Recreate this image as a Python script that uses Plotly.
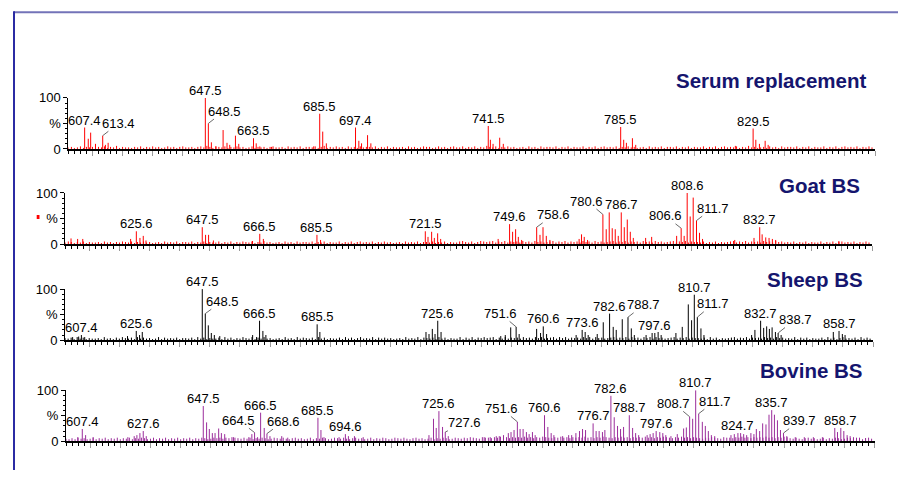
import plotly.graph_objects as go

# ---------------- DATA ----------------
x_range = [602, 870]
panel_titles = ["Serum replacement", "Goat BS", "Sheep BS", "Bovine BS"]
y_tick_vals = [0, 50, 100]
y_tick_text = ["0", "%", "100"]

serum_mz = [607.4, 608.6, 609.4, 611.0, 613.4, 614.3, 615.2, 647.5, 648.5, 649.5, 651.0, 653.4,
            654.7, 655.6, 657.5, 658.6, 663.5, 664.4, 665.6, 669.5, 683.5, 685.5, 686.5, 687.7,
            697.4, 698.5, 699.4, 701.4, 702.5, 741.5, 742.2, 743.1, 745.3, 746.5, 785.5, 786.5,
            787.4, 789.4, 790.5, 823.6, 829.5, 830.4, 831.6, 833.5, 834.5]
serum_int = [42, 20, 32, 10, 26, 8, 12, 100, 50, 13, 5, 37,
             12, 8, 26, 10, 21, 11, 5, 4, 5, 69, 34, 11,
             42, 16, 11, 27, 11, 45, 18, 10, 22, 10, 43, 18,
             12, 21, 8, 6, 40, 18, 10, 16, 8]
serum_labels = ["607.4", "613.4", "647.5", "648.5", "663.5", "685.5", "697.4",
                "741.5", "785.5", "829.5"]

goat_mz = [603.9, 606.1, 607.8, 623.7, 625.6, 626.8, 627.9, 628.8, 647.5, 648.6, 649.6, 651.2,
           664.2, 666.6, 667.8, 685.6, 686.8, 721.6, 722.5, 723.7, 724.6, 725.7, 726.7, 745.8,
           749.6, 750.6, 751.6, 752.5, 753.6, 758.6, 759.7, 760.7, 761.8, 763.0, 772.7, 773.5,
           774.4, 775.5, 780.6, 781.7, 782.7, 783.7, 784.7, 785.7, 786.7, 787.7, 788.7, 789.7,
           790.7, 794.8, 796.8, 805.1, 806.6, 807.6, 808.6, 809.6, 810.6, 811.7, 812.7, 813.7,
           824.4, 830.8, 832.7, 833.5, 834.7, 835.8, 836.9, 838.0, 859.0]
goat_int = [11, 10, 10, 10, 25, 12, 16, 7, 33, 18, 18, 7,
            6, 20, 10, 18, 8, 25, 14, 24, 12, 21, 10, 10,
            39, 24, 29, 14, 8, 33, 18, 33, 16, 8, 10, 19,
            14, 8, 58, 29, 62, 31, 29, 16, 62, 33, 48, 24,
            12, 12, 14, 16, 31, 16, 100, 54, 91, 46, 22, 10,
            8, 12, 33, 19, 13, 12, 10, 8, 6]
goat_labels = ["625.6", "647.5", "666.5", "685.5", "721.5", "749.6", "758.6", "780.6",
               "786.7", "806.6", "808.6", "811.7", "832.7"]

sheep_mz = [604.5, 606.5, 607.4, 608.5, 622.7, 625.6, 626.7, 627.6, 647.5, 648.5, 649.5, 650.5,
            651.5, 653.3, 664.2, 665.5, 666.5, 667.6, 668.6, 685.6, 686.5, 721.7, 722.7, 723.8,
            724.7, 725.6, 726.7, 746.5, 748.0, 749.8, 751.6, 752.6, 758.4, 759.7, 760.6, 761.7,
            771.5, 773.5, 774.5, 775.5, 778.5, 780.5, 782.6, 783.8, 784.8, 786.8, 788.7, 789.8,
            790.8, 794.7, 796.7, 797.6, 798.7, 799.7, 804.6, 806.7, 808.7, 809.8, 810.7, 811.7,
            812.9, 813.9, 829.7, 830.8, 832.7, 833.7, 834.7, 835.6, 836.5, 837.6, 838.5, 839.5,
            856.8, 858.7, 859.8, 860.7]
sheep_int = [6, 7, 10, 6, 8, 18, 10, 16, 100, 52, 29, 14,
             10, 8, 10, 6, 38, 18, 10, 31, 16, 16, 12, 22,
             12, 38, 16, 8, 10, 25, 26, 12, 22, 14, 27, 12,
             10, 20, 16, 10, 12, 35, 52, 26, 20, 41, 45, 23,
             10, 10, 14, 14, 16, 10, 14, 26, 70, 39, 89, 45,
             23, 10, 10, 20, 38, 24, 27, 22, 25, 16, 14, 10,
             16, 18, 12, 10]
sheep_labels = ["607.4", "625.6", "647.5", "648.5", "666.5", "685.5", "725.6", "751.6",
                "760.6", "773.6", "782.6", "788.7", "797.6", "810.7", "811.7", "832.7",
                "838.7", "858.7"]

bovine_mz = [605.9, 607.4, 608.5, 611.0, 622.5, 624.6, 625.5, 626.5, 627.6, 628.6, 647.5, 648.6,
             649.5, 650.5, 651.4, 652.6, 653.5, 654.6, 657.5, 662.6, 663.6, 664.5, 665.5, 666.5,
             667.7, 668.6, 669.6, 673.5, 675.5, 685.5, 686.5, 687.5, 692.5, 694.6, 695.6, 697.6,
             700.5, 722.3, 723.8, 724.7, 725.6, 726.8, 727.7, 728.7, 740.6, 742.6, 744.6, 745.6,
             747.0, 748.6, 749.5, 750.5, 751.6, 752.5, 753.5, 754.6, 755.5, 756.6, 757.5, 760.6,
             761.7, 762.8, 763.7, 766.6, 768.6, 769.6, 771.0, 772.2, 773.2, 774.2, 776.7, 777.7,
             778.7, 779.8, 780.6, 782.6, 783.7, 784.8, 785.8, 786.8, 788.7, 789.8, 790.8, 791.8,
             794.6, 795.6, 796.6, 797.6, 798.8, 799.8, 800.8, 802.5, 804.6, 806.7, 807.6, 808.7,
             809.7, 810.7, 811.7, 812.9, 813.9, 814.9, 815.9, 817.0, 822.4, 823.5, 824.7, 825.6,
             826.6, 827.6, 829.0, 830.0, 830.8, 831.9, 832.9, 834.0, 835.0, 835.9, 836.8, 837.8,
             838.8, 839.8, 840.9, 843.7, 846.7, 849.7, 852.7, 856.8, 857.7, 858.8, 859.8, 860.9,
             861.9, 863.0, 865.0, 867.0]
bovine_int = [8, 24, 12, 8, 8, 10, 12, 16, 20, 10, 69, 37,
              24, 16, 16, 25, 16, 14, 8, 8, 14, 17, 8, 56,
              26, 15, 10, 10, 7, 46, 22, 8, 8, 14, 10, 10,
              8, 12, 44, 26, 59, 28, 18, 10, 8, 8, 10, 10,
              12, 16, 18, 22, 38, 24, 24, 18, 14, 18, 12, 51,
              28, 16, 12, 10, 12, 12, 16, 20, 24, 22, 35, 20,
              20, 18, 22, 89, 47, 30, 24, 28, 51, 26, 16, 12,
              12, 14, 16, 20, 18, 16, 12, 10, 14, 25, 27, 48,
              44, 100, 54, 38, 30, 20, 12, 10, 12, 14, 16, 16,
              14, 12, 16, 14, 24, 20, 35, 33, 52, 61, 52, 41,
              22, 16, 10, 8, 8, 8, 8, 26, 18, 26, 20, 12,
              10, 8, 7, 6]
bovine_labels = ["607.4", "627.6", "647.5", "664.5", "666.5", "668.6", "685.5", "694.6",
                 "725.6", "727.6", "751.6", "760.6", "776.7", "782.6", "788.7", "797.6",
                 "808.7", "810.7", "811.7", "824.7", "835.7", "839.7", "858.7"]

# baseline noise heights (%), one digit per m/z unit starting at noise_start
noise_start = 602
serum_noise = ("3423524342" "4352436243" "3243524353" "4235342453" "3424536425"
               "4352435342" "3524342453" "3425343524" "4352462435" "3425342534"
               "4352435243" "3425342354" "4235342453" "3524352436" "4352435342"
               "3425342534" "4352435243" "3524352453" "4352435342" "3425343524"
               "4352435243" "3524352453" "4352436342" "3425342534" "4352435243"
               "3524352453" "43524353")
goat_noise = ("3542435243" "3425342435" "4352435342" "3425343524" "4352435243"
              "3524352435" "4352436342" "3425342534" "4352435243" "3524352453"
              "4352435342" "3425343524" "4352435243" "3564352465" "4563546354"
              "5364536453" "4563546354" "5364536453" "4563546354" "5364536453"
              "4563546354" "4352435243" "4563546354" "5364536453" "4352435243"
              "3524352453" "43524353")
sheep_noise = ("4352635243" "3426342536" "4352635342" "3625343524" "4352635243"
               "3526352436" "4362536342" "3426342635" "4352635243" "3526352463"
               "4362535342" "3426343625" "4352635243" "3625362546" "4562536354"
               "5364536463" "4563646354" "5364636453" "4563546364" "5364636453"
               "4563546354" "4352635243" "4563546354" "5364536453" "4362535243"
               "3526352463" "43526353")
bovine_noise = ("5464756457" "4657465746" "5746576457" "4657465746" "5746576457"
                "6757687657" "5746576457" "6575467564" "5746576457" "6575467564"
                "5746576457" "6575467564" "5746576457" "6576876587" "7687978687"
                "8797868798" "7687978687" "8797868798" "7687978687" "8797868798"
                "7687978687" "6576876587" "7687978687" "8797868798" "6575467564"
                "5746576457" "65754675")

# ---------------- LAYOUT / STYLE ----------------
W, H = 898, 478
# observed vertical mapping of the rendered page: shown_y = OFF + SC * page_y
OFF, SC = 7.7, 0.9676


def py(ref_y):
    """paper fraction for a target vertical pixel position"""
    return 1 - ((ref_y - OFF) / SC) / H


panels = [
    dict(mz=serum_mz, it=serum_int, noise=serum_noise, labels=serum_labels,
         x0=68.4, x1=875.0, y0=149.5, y100=98.5, title_r=868, title_y=81, color="#ff0000"),
    dict(mz=goat_mz, it=goat_int, noise=goat_noise, labels=goat_labels,
         x0=65.3, x1=872.0, y0=244.5, y100=193.5, title_r=862, title_y=186, color="#ff0000"),
    dict(mz=sheep_mz, it=sheep_int, noise=sheep_noise, labels=sheep_labels,
         x0=65.1, x1=873.1, y0=340.5, y100=289.5, title_r=865, title_y=279.5, color="#000000"),
    dict(mz=bovine_mz, it=bovine_int, noise=bovine_noise, labels=bovine_labels,
         x0=66.0, x1=874.6, y0=441.5, y100=390.5, title_r=865, title_y=371, color="#9b2d9b"),
]
# leader-line label offsets in pixels (dx, dy) from the peak top
leaders = {
    (0, "613.4"): (16, -12), (0, "648.5"): (16, -12),
    (1, "758.6"): (17, -12), (1, "780.6"): (-16, -13), (1, "806.6"): (-16, -12),
    (1, "811.7"): (16, -12),
    (2, "648.5"): (17, -12), (2, "751.6"): (-16, -13), (2, "788.7"): (16, -12),
    (2, "811.7"): (16, -13), (2, "838.7"): (17, -13),
    (3, "664.5"): (-16, -12), (3, "668.6"): (17, -12), (3, "727.6"): (19, -9),
    (3, "751.6"): (-16, -13), (3, "808.7"): (-16, -13), (3, "811.7"): (16, -12),
    (3, "839.7"): (16, -12),
}
title_color = "#15156e"
font_family = "Liberation Sans, Arial, sans-serif"

fig = go.Figure()
annotations = []
layout_axes = {}

for i, p in enumerate(panels):
    sfx = "" if i == 0 else str(i + 1)
    xs, ys = [], []
    for k, ch in enumerate(p["noise"]):
        m = noise_start + k
        if m > x_range[1]:
            break
        xs += [m, m, None]
        ys += [0, int(ch), None]
    for m, h in zip(p["mz"], p["it"]):
        xs += [m, m, None]
        ys += [0, h, None]
    fig.add_trace(go.Scatter(x=xs, y=ys, mode="lines", xaxis="x" + sfx, yaxis="y" + sfx,
                             line=dict(color=p["color"], width=1), hoverinfo="skip",
                             showlegend=False))

    layout_axes["xaxis" + sfx] = dict(
        domain=[p["x0"] / W, p["x1"] / W], range=x_range, anchor="y" + sfx,
        showline=True, linecolor="black", linewidth=2, showgrid=False, zeroline=False,
        ticks="outside", tickmode="linear", tick0=600, dtick=10, ticklen=5,
        tickcolor="#9a9a9a", tickwidth=1, showticklabels=False, fixedrange=True,
        minor=dict(ticks="outside", tickmode="linear", tick0=600, dtick=2, ticklen=3,
                   tickcolor="black", tickwidth=1, showgrid=False),
    )
    layout_axes["yaxis" + sfx] = dict(
        domain=[py(p["y0"]), py(p["y100"])], range=[0, 100], anchor="x" + sfx,
        showline=True, linecolor="black", linewidth=1, showgrid=False, zeroline=False,
        tickmode="array", tickvals=y_tick_vals, ticktext=y_tick_text, fixedrange=True,
        ticks="outside", ticklen=4, tickcolor="black", tickwidth=1,
        tickfont=dict(family=font_family, size=13, color="black"),
        minor=dict(ticks="outside", tickmode="linear", tick0=0, dtick=10, ticklen=2,
                   tickcolor="black", tickwidth=1, showgrid=False),
    )

    for lab in p["labels"]:
        v = float(lab)
        j = min(range(len(p["mz"])), key=lambda q: abs(p["mz"][q] - v))
        m, h = p["mz"][j], p["it"][j]
        base = dict(x=m, y=h, xref="x" + sfx, yref="y" + sfx, text=lab,
                    font=dict(family=font_family, size=13, color="black"))
        if (i, lab) in leaders:
            dx, dy = leaders[(i, lab)]
            base.update(showarrow=True, ax=dx, ay=dy / SC, arrowhead=0, arrowwidth=0.8,
                        arrowcolor="#444444", standoff=0, startstandoff=0, borderpad=0)
        else:
            base.update(showarrow=False, xanchor="center", yanchor="bottom", yshift=-1,
                        borderpad=0)
        annotations.append(base)

    annotations.append(dict(x=p["title_r"] / W, y=py(p["title_y"]), xref="paper",
                            yref="paper", xanchor="right", yanchor="middle",
                            text="<b>" + panel_titles[i] + "</b>", showarrow=False,
                            font=dict(family=font_family, size=20.5, color=title_color)))

shapes = [
    dict(type="line", xref="paper", yref="paper", x0=14 / W, x1=1, y0=py(13),
         y1=py(13), line=dict(color="#7373b8", width=2)),
    dict(type="line", xref="paper", yref="paper", x0=14 / W, x1=14 / W, y0=py(12),
         y1=0, line=dict(color="#2b2ba3", width=2)),
    dict(type="rect", xref="paper", yref="paper", x0=36.7 / W, x1=39.5 / W,
         y0=py(219.5), y1=py(215.5), fillcolor="#ff0000", line=dict(width=0)),
]

fig.update_layout(width=W, height=H, autosize=False, margin=dict(l=0, r=0, t=0, b=0),
                  paper_bgcolor="white", plot_bgcolor="rgba(0,0,0,0)",
                  annotations=annotations, shapes=shapes, showlegend=False,
                  **layout_axes)

fig.write_html("out.html",
               config={"responsive": False, "displayModeBar": False, "staticPlot": True},
               post_script="document.body.style.margin='0';"
                           "document.body.style.overflow='hidden';")
